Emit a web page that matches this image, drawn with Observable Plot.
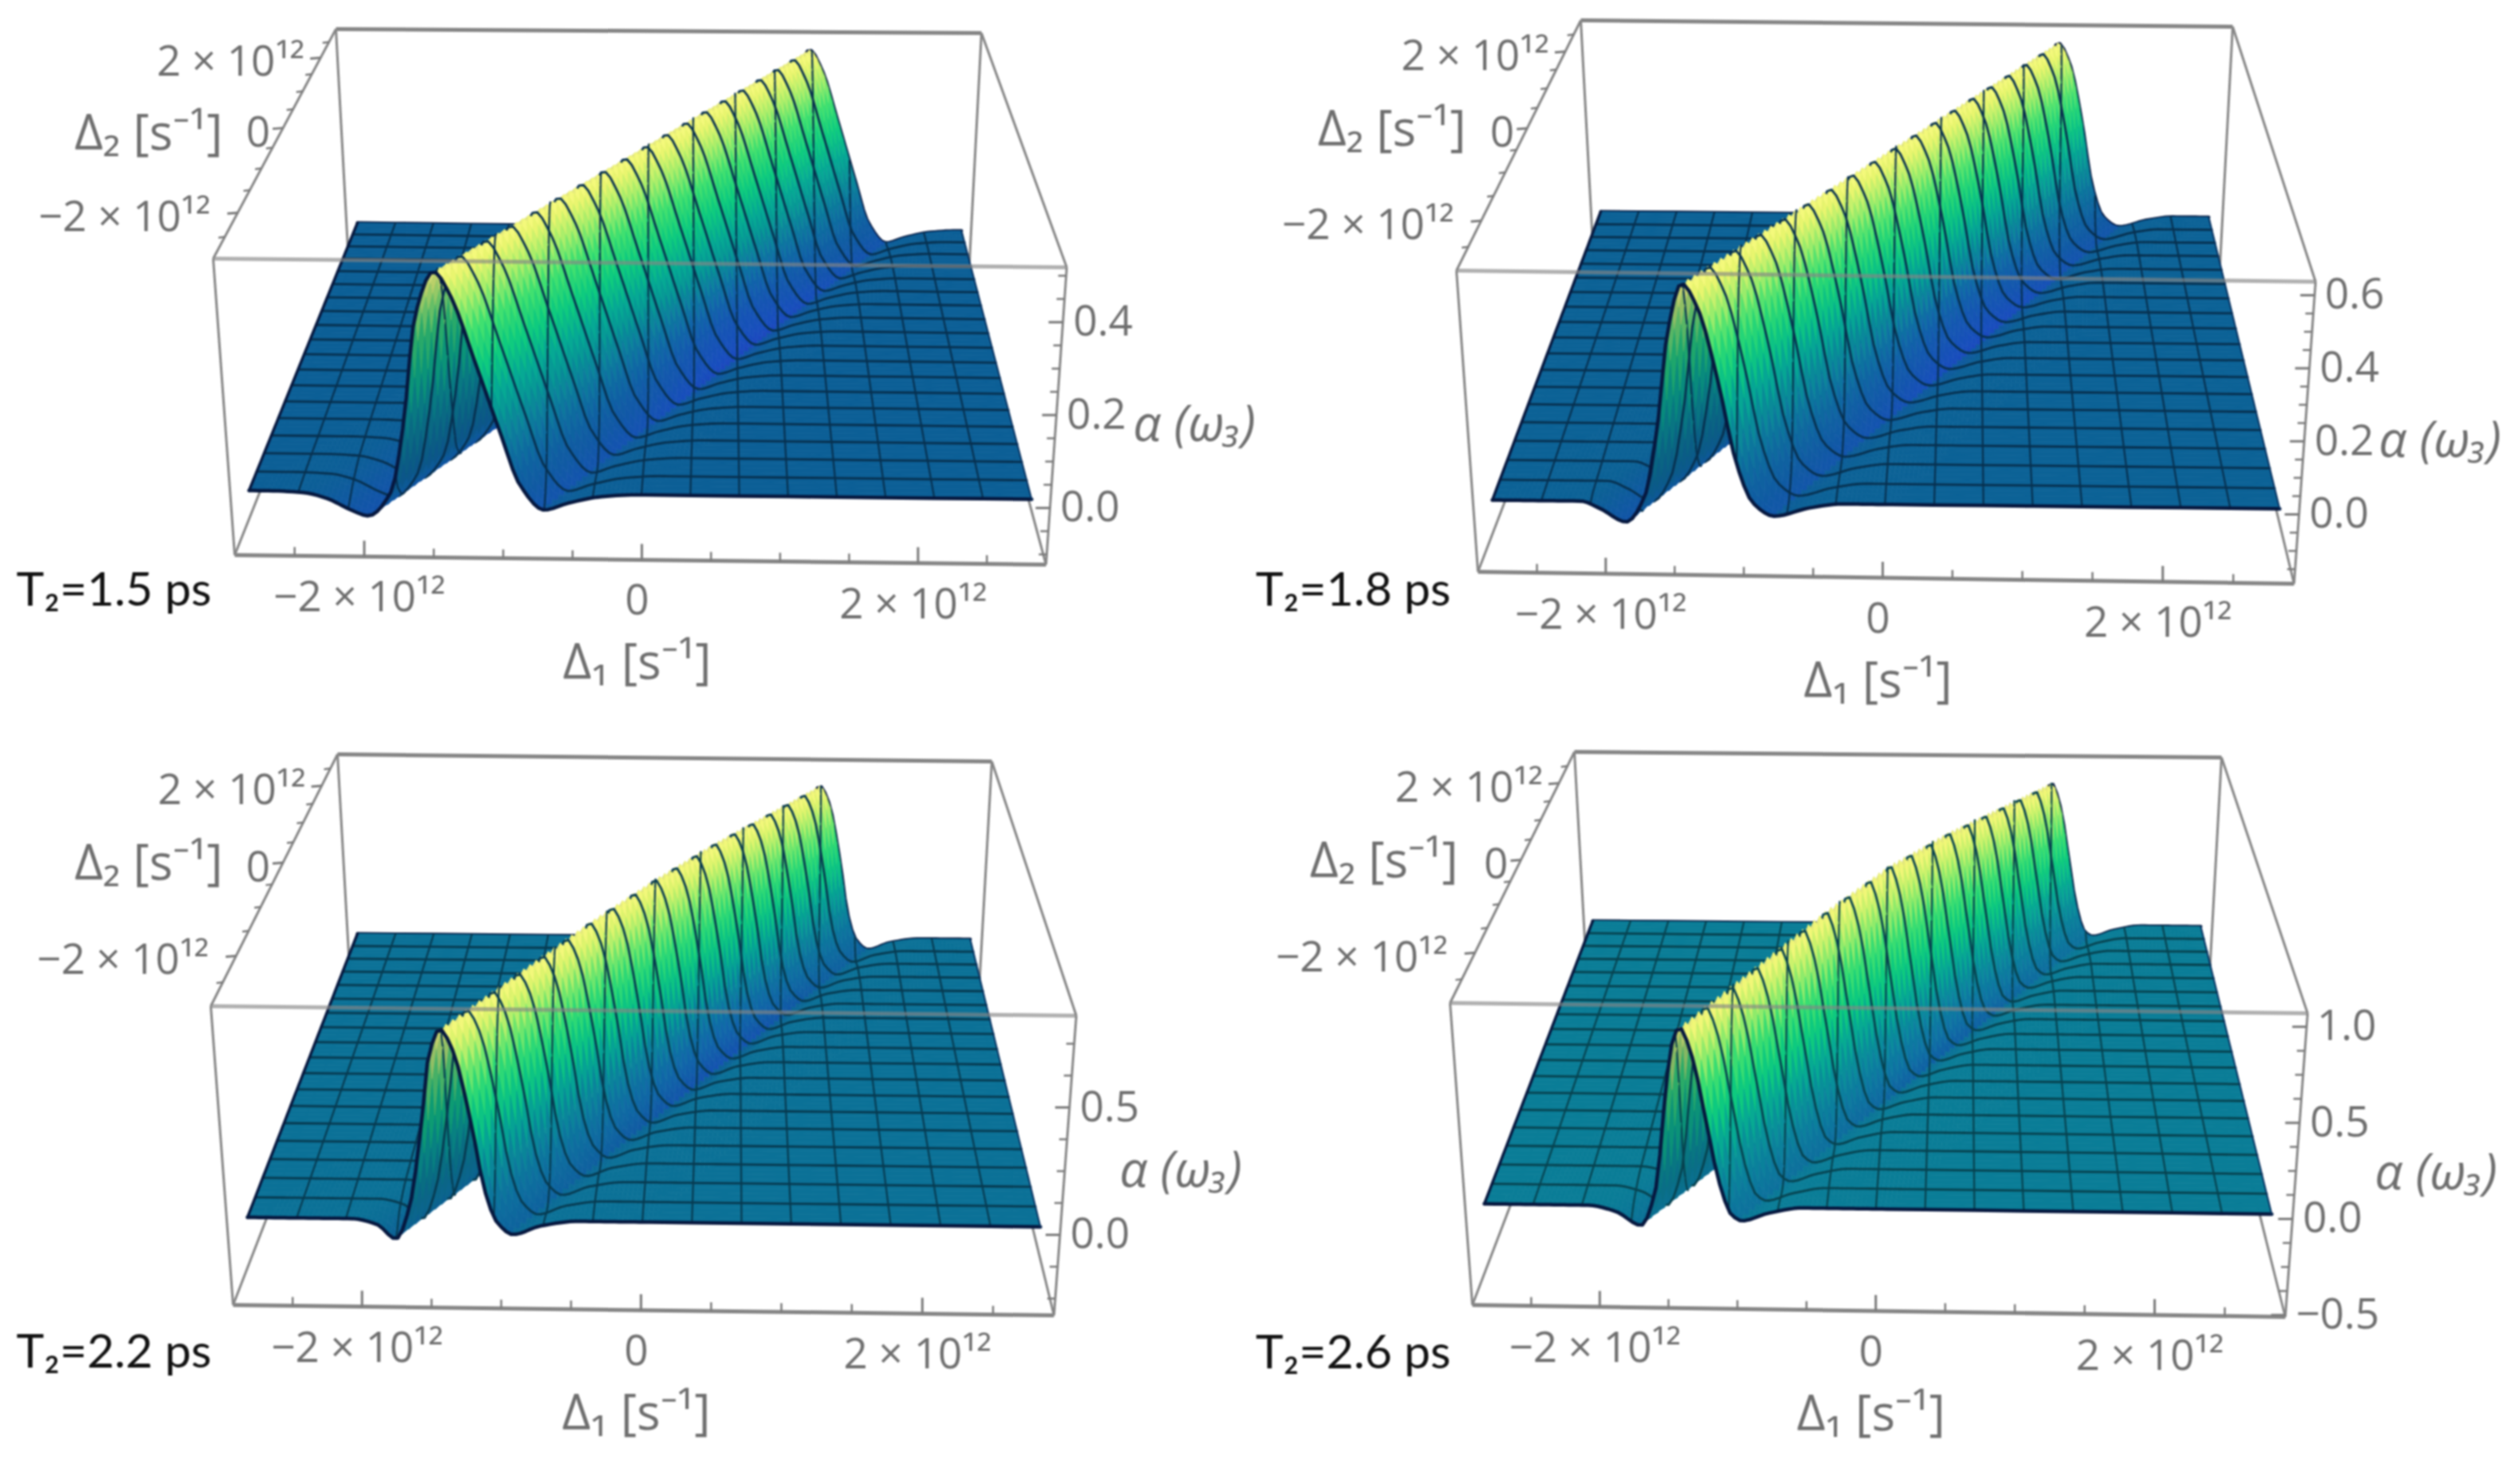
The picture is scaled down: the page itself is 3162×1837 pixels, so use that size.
<!DOCTYPE html>
<html><head><meta charset="utf-8">
<style>html,body{margin:0;padding:0;background:#fff;overflow:hidden}</style>
<script src="https://cdn.jsdelivr.net/npm/d3@7"></script>
<script src="https://cdn.jsdelivr.net/npm/@observablehq/plot@0.6"></script>
</head><body><div id="chart"></div>
<script>
// ---- values: alpha profile across the ridge (offset in 1e12 s^-1 from the crest)
const offsets15 = [-1.25,-1.0,-0.83,-0.66,-0.54,-0.37,-0.26,-0.14,0,0.114,0.26,0.43,0.55,0.72,0.89,1.13,1.4];
const alpha15   = [0,-0.003,-0.015,-0.04,-0.052,0,0.146,0.386,0.48,0.426,0.29,0.127,0.02,-0.035,-0.02,-0.005,0];
const offsets18 = [-1.0,-0.77,-0.63,-0.45,-0.31,-0.2,-0.11,0,0.11,0.23,0.35,0.46,0.61,0.86,1.1];
const alpha18   = [0,0,-0.02,-0.055,0.015,0.21,0.455,0.59,0.52,0.335,0.105,0,-0.035,-0.012,0];
const offsets22 = [-0.9,-0.66,-0.48,-0.35,-0.25,-0.14,-0.085,0,0.085,0.2,0.29,0.37,0.485,0.68,0.95];
const alpha22   = [0,0,-0.022,-0.078,0.04,0.39,0.63,0.75,0.67,0.39,0.115,-0.006,-0.055,-0.02,0];
const offsets26 = [-0.9,-0.69,-0.49,-0.31,-0.2,-0.11,-0.06,0,0.085,0.17,0.255,0.34,0.415,0.6,0.85];
const alpha26   = [0,0,-0.03,-0.1,0.08,0.57,0.82,0.92,0.77,0.45,0.13,-0.04,-0.07,-0.03,0];
// crest position (Delta1, 1e12) at the near and far end of Delta2
const crest15 = [-1.42,1.38], crest18 = [-1.40,1.37], crest22 = [-1.40,1.39], crest26 = [-1.37,1.40];
// crest height relative to the near end, read at seven stations along Delta2
const height15 = [1,1,1,1,1,1,1], height18 = [1,1,1,1,1,1,1];
const height22 = [1,1.03,1.06,1.07,1.06,1.03,1], height26 = [1,1.06,1.12,1.15,1.12,1.06,1];
// ticks and texts
const labelsT2 = ["T₂=1.5 ps","T₂=1.8 ps","T₂=2.2 ps","T₂=2.6 ps"];
const d1Ticks = [-2.5,-2,-1.5,-1,-0.5,0,0.5,1,1.5,2,2.5];
const d2Ticks = [-2.5,-2,-1.5,-1,-0.5,0,0.5,1,1.5,2,2.5];
const dMajor = [-2,0,2];
const dMajorText = ["−2 × 10¹²","0","2 × 10¹²"];
const alphaMajor15 = [0,0.2,0.4], alphaMajor18 = [0,0.2,0.4,0.6], alphaMajor22 = [0,0.5], alphaMajor26 = [-0.5,0,0.5,1];
const alphaText15 = ["0.0","0.2","0.4"], alphaText18 = ["0.0","0.2","0.4","0.6"], alphaText22 = ["0.0","0.5"], alphaText26 = ["−0.5","0.0","0.5","1.0"];

// ---- page + 3D view of each panel (projection parameters)
const W = 3162, H = 1837, R = 2.93, S = 2.8;
const views = [
 {off:offsets15,val:alpha15,crest:crest15,hgt:height15,amin:-0.122,amax:0.518,aMaj:alphaMajor15,aTxt:alphaText15,aStep:0.05,t2:labelsT2[0],
  top:[[267,324],[1338,335],[1231,41],[421,36]],bot:[[294,696],[1312,708]],
  floor:[[312,615],[1294,626],[1206,289],[448,279]],floorT:.22,dip:1,line:"#07304f",
  t2xy:[20,741],d2xy:[186,168],axy:[1498,533]},
 {off:offsets18,val:alpha18,crest:crest18,hgt:height18,amin:-0.19,amax:0.637,aMaj:alphaMajor18,aTxt:alphaText18,aStep:0.05,t2:labelsT2[1],
  top:[[1827,339],[2905,353],[2801,33],[1983,25]],bot:[[1854,717],[2878,732]],
  floor:[[1872,627],[2860,638],[2771,272],[2008,265]],floorT:.23,dip:.9,line:"#07304f",
  t2xy:[1575,741],d2xy:[1746,163],axy:[3061,553]},
 {off:offsets22,val:alpha22,crest:crest22,hgt:height22,amin:-0.316,amax:0.86,aMaj:alphaMajor22,aTxt:alphaText22,aStep:0.125,t2:labelsT2[2],
  top:[[264,1262],[1350,1274],[1244,955],[423,946]],bot:[[292,1637],[1322,1650]],
  floor:[[310,1527],[1305,1539],[1217,1178],[448,1171]],floorT:.29,dip:.6,line:"#073a50",
  t2xy:[20,1697],d2xy:[186,1084],axy:[1481,1469]},
 {off:offsets26,val:alpha26,crest:crest26,hgt:height26,amin:-0.51,amax:1.07,aMaj:alphaMajor26,aTxt:alphaText26,aStep:0.125,t2:labelsT2[3],
  top:[[1819,1258],[2895,1271],[2787,950],[1975,943]],bot:[[1847,1637],[2867,1652]],
  floor:[[1862,1510],[2850,1523],[2761,1162],[1998,1155]],floorT:.34,dip:.4,line:"#07424f",
  t2xy:[1575,1698],d2xy:[1736,1081],axy:[3056,1472]}
];

// ---- helpers
function hom(q){
  const [[x0,y0],[x1,y1],[x2,y2],[x3,y3]] = q;
  const dx1=x1-x2,dx2=x3-x2,sx=x0-x1+x2-x3,dy1=y1-y2,dy2=y3-y2,sy=y0-y1+y2-y3,det=dx1*dy2-dx2*dy1;
  const g=(sx*dy2-dx2*sy)/det,h=(dx1*sy-sx*dy1)/det;
  const a=x1-x0+g*x1,b=x3-x0+h*x3,d=y1-y0+g*y1,e=y3-y0+h*y3;
  return (u,v)=>{const w=g*u+h*v+1;return [(a*u+b*v+x0)/w,(d*u+e*v+y0)/w];};
}
function monotone(xs,ys){
  const n=xs.length,sl=[],m=new Array(n).fill(0);
  for(let i=0;i<n-1;i++) sl.push((ys[i+1]-ys[i])/(xs[i+1]-xs[i]));
  for(let i=1;i<n-1;i++) m[i]= sl[i-1]*sl[i]<=0?0:2*sl[i-1]*sl[i]/(sl[i-1]+sl[i]);
  return x=>{
    if(x<=xs[0]||x>=xs[n-1]) return 0;
    let i=d3.bisectRight(xs,x)-1; const h=xs[i+1]-xs[i],t=(x-xs[i])/h,t2=t*t,t3=t2*t;
    return (2*t3-3*t2+1)*ys[i]+(t3-2*t2+t)*h*m[i]+(-2*t3+3*t2)*ys[i+1]+(t3-t2)*h*m[i+1];
  };
}
const ramp = d3.scaleLinear()
  .domain([0,.12,.22,.35,.5,.62,.74,.86,.95,1])
  .range(["#3a12a0","#1450b0","#0c5f96","#0a8097","#06a894","#0fcc7e","#3fe070","#a8ee6a","#e8f56e","#f8fa80"])
  .interpolate(d3.interpolateRgb).clamp(true);
const shadeMix = (c,k)=>d3.interpolateRgb(c,"#0a2a50")(k);

const features=[], boxLinks=[], overLinks=[], ticks=[], tickText=[], d2Text=[], alphaText=[], axisText=[], alphaAxis=[], t2Text=[];
const feat=(type,coords,p)=>({type:"Feature",geometry:{type,coordinates:coords},properties:p});

views.forEach(V=>{
  const {top,bot,floor,amin,amax}=V;
  const w0=(0-amin)/(amax-amin);
  const lean=(bot[0][0]-top[0][0])/(bot[0][1]-top[0][1])*.75, leanR=(bot[1][0]-top[1][0])/(bot[1][1]-top[1][1])*.75;
  const yBL=top[3][1]+(floor[3][1]-top[3][1])/(1-w0), yBR=top[2][1]+(floor[2][1]-top[2][1])/(1-w0);
  const backL=[top[3][0]+lean*(yBL-top[3][1]),yBL], backR=[top[2][0]+leanR*(yBR-top[2][1]),yBR];
  const Top=hom(top), Bot=hom([bot[0],bot[1],backR,backL]), Fl=hom(floor);
  const boxP=(d1,d2,a)=>{
    const u=(d1+R)/(2*R),v=(d2+R)/(2*R),w=(a-amin)/(amax-amin),t=Top(u,v),b=Bot(u,v);
    return [b[0]+(t[0]-b[0])*w,b[1]+(t[1]-b[1])*w];
  };
  const surfP=(d1,d2,a)=>{
    const f=Fl((d1+S)/(2*S),(d2+S)/(2*S)),t=boxP(d1,d2,amax),k=a/amax;
    return [f[0]+(t[0]-f[0])*k,f[1]+(t[1]-f[1])*k];
  };
  const prof=monotone(V.off,V.val);
  const peak=d3.max(V.val), dipMin=d3.min(V.val);
  const lastDip=V.off[d3.range(V.val.length).filter(i=>V.off[i]>0).reduce((a,b)=>V.val[b]<V.val[a]?b:a)];
  const crestAt=d2=>V.crest[0]+(V.crest[1]-V.crest[0])*(d2+S)/(2*S);
  const gain=d2=>{const s=(d2+S)/(2*S)*6,i=Math.min(5,Math.floor(s));return V.hgt[i]+(V.hgt[i+1]-V.hgt[i])*(s-i);};
  const A=(d1,d2)=>{const a=prof(d1-crestAt(d2));return a>0?a*gain(d2):a;};
  const colorAt=(d1,d2)=>{
    const del=d1-crestAt(d2),a=prof(del),v=(d2+S)/(2*S);
    const k=.35+.65*Math.exp(-Math.pow((v-.55)/.25,2));
    let t;
    if(a>=0) t=V.floorT+(1-V.floorT)*Math.pow(a/peak,1.2);
    else {
      let q=a/dipMin; if(del>lastDip) q=q*q*q;
      t=V.floorT*(1-V.dip*k*q);
    }
    let c=ramp(t);
    // the low part of the lit slope turns saturated blue towards the foot line
    if(del>0&&del<=lastDip&&a/peak<.35){
      c=d3.interpolateRgb(c,"#1a4cc4")((1-Math.max(a,0)/peak/.35)*.75*k*V.dip);
    }
    const slope=(prof(del+.01)-prof(del-.01))/.02;
    if(del<0&&slope>0){const f=Math.min(1,slope/(peak/.3))*.2+(a>0?.08:0); c=shadeMix(c,f);}
    return c;
  };
  // box
  const L=(a,b,w)=>({x1:a[0],y1:a[1],x2:b[0],y2:b[1],w});
  const fb0=bot[0],fb1=bot[1];
  boxLinks.push(L(top[3],top[2],5),L(top[3],top[0],3),L(top[2],top[1],3),L(top[3],backL,3),L(top[2],backR,3),
    L(fb0,backL,3),L(fb1,backR,3),L(backL,backR,3),L(fb0,fb1,5),L(top[0],fb0,3),L(top[1],fb1,3));
  overLinks.push(L(top[0],top[1],5));
  // ticks
  d1Ticks.forEach(t=>{const a=boxP(t,-R,amin),maj=dMajor.includes(t),e=[a[0],a[1]-(maj?20:11)];ticks.push(L(a,e,maj?3:2.5));});
  d2Ticks.forEach(t=>{const a=boxP(-R,t,amax),maj=dMajor.includes(t),e=[a[0]+(maj?-13:-8),a[1]+1];ticks.push(L(a,e,maj?3:2.5));});
  for(let a0=Math.ceil(amin/V.aStep)*V.aStep;a0<=amax+1e-6;a0+=V.aStep){
    const a=boxP(R,-R,a0),maj=V.aMaj.some(m=>Math.abs(m-a0)<1e-6),e=[a[0]-(maj?18:10),a[1]];ticks.push(L(a,e,maj?3:2.5));
  }
  // tick labels
  dMajor.forEach((t,i)=>{const a=boxP(t,-R,amin);tickText.push({x:a[0]-6,y:a[1]+52,text:dMajorText[i]});});
  const d2Dx=[-34,-16,-20];
  dMajor.forEach((t,i)=>{const a=boxP(-R,t,amax);d2Text.push({x:a[0]+d2Dx[i],y:a[1]+6,text:dMajorText[i]});});
  V.aMaj.forEach((t,i)=>{const a=boxP(R,-R,t);alphaText.push({x:a[0]+13,y:a[1],text:V.aTxt[i]});});
  const a0=boxP(0,-R,amin);
  axisText.push({x:a0[0]-6,y:a0[1]+130,text:"Δ₁ [s⁻¹]"},{x:V.d2xy[0],y:V.d2xy[1],text:"Δ₂ [s⁻¹]"});
  alphaAxis.push({x:V.axy[0],y:V.axy[1],text:"α (ω₃)"});
  t2Text.push({x:V.t2xy[0],y:V.t2xy[1],text:V.t2});

  // ---- surface, drawn from the far edge to the near edge
  const rows=18, cols=16, sub=4;
  const fineList=d2=>{
    const r=crestAt(d2),list=[];
    const lo=Math.max(-S,r-1.35),hi=Math.min(S,r+1.45);
    for(let d=-S;d<lo-1e-9;d+=5.6/cols) list.push(d);
    for(let d=lo;d<hi;d+=.035) list.push(d);
    let rest=[];for(let d=S;d>hi+1e-9;d-=5.6/cols) rest.push(d);
    list.push(hi,...rest.reverse());
    return list;
  };
  const edgeLine=d2=>fineList(d2).map(d=>surfP(d,d2,A(d,d2)));
  features.push(feat("LineString",edgeLine(S),{fill:"none",stroke:"#06183f",sw:4}));
  const nj=rows*sub, dj=5.6/nj, colVals=d3.range(1,cols).map(i=>-S+i*5.6/cols);
  let pendingRow=null;
  for(let j=nj-1;j>=0;j--){
    const d2a=-S+j*dj,d2b=d2a+dj,list=fineList((d2a+d2b)/2),row=[];
    for(let i=0;i<list.length-1;i++){
      const x0=list[i],x1=list[i+1];
      const ring=[surfP(x0,d2a,A(x0,d2a)),surfP(x1,d2a,A(x1,d2a)),surfP(x1,d2b,A(x1,d2b)),surfP(x0,d2b,A(x0,d2b))];
      ring.push(ring[0]);
      const xm=(x0+x1)/2,c=colorAt(xm,(d2a+d2b)/2);
      row.push({d:Math.abs(xm),f:feat("Polygon",[ring],{fill:c,stroke:c,sw:.7})});
    }
    row.sort((p,q)=>q.d-p.d).forEach(r=>features.push(r.f));
    colVals.forEach(cv=>{
      features.push(feat("LineString",[surfP(cv,d2a,A(cv,d2a)),surfP(cv,(d2a+d2b)/2,A(cv,(d2a+d2b)/2)),surfP(cv,d2b,A(cv,d2b))],{fill:"none",stroke:V.line,sw:2.2}));
    });
    if(pendingRow!==null){features.push(feat("LineString",edgeLine(pendingRow),{fill:"none",stroke:V.line,sw:2.8}));pendingRow=null;}
    if(j%sub===0&&j>0) pendingRow=d2a;
  }
  // boundary of the surface
  features.push(feat("LineString",edgeLine(-S),{fill:"none",stroke:"#06183f",sw:4.5}));
  const side=d=>d3.range(0,nj+1).map(j=>{const y=-S+j*dj;return surfP(d,y,A(d,y));});
  features.push(feat("LineString",side(-S),{fill:"none",stroke:"#06183f",sw:3.5}));
  features.push(feat("LineString",side(S),{fill:"none",stroke:"#06305f",sw:2}));
});

const gray="#6e6e6e", tickFont="'Open Sans'";
const chart=Plot.plot({
  width:W,height:H,margin:0,
  x:{domain:[0,W],range:[0,W],axis:null},
  y:{domain:[0,H],range:[0,H],axis:null},
  color:{type:"identity"},
  style:{background:"#fff",filter:"blur(1.2px)"},
  marks:[
    Plot.link(boxLinks,{x1:"x1",y1:"y1",x2:"x2",y2:"y2",stroke:"#858585",strokeWidth:"w"}),
    Plot.link(ticks,{x1:"x1",y1:"y1",x2:"x2",y2:"y2",stroke:"#7a7a7a",strokeWidth:"w"}),
    Plot.geo(features,{fill:d=>d.properties.fill,stroke:d=>d.properties.stroke,strokeWidth:d=>d.properties.sw,strokeLinejoin:"round"}),
    Plot.link(overLinks,{x1:"x1",y1:"y1",x2:"x2",y2:"y2",stroke:"#858585",strokeOpacity:.65,strokeWidth:"w"}),
    Plot.text(tickText,{x:"x",y:"y",text:"text",fontSize:53,fontFamily:tickFont,fill:gray}),
    Plot.text(d2Text,{x:"x",y:"y",text:"text",fontSize:53,fontFamily:tickFont,fill:gray,textAnchor:"end"}),
    Plot.text(alphaText,{x:"x",y:"y",text:"text",fontSize:53,fontFamily:tickFont,fill:gray,textAnchor:"start"}),
    Plot.text(axisText,{x:"x",y:"y",text:"text",fontSize:62,fontFamily:tickFont,fill:gray}),
    Plot.text(alphaAxis,{x:"x",y:"y",text:"text",fontSize:62,fontFamily:tickFont,fontStyle:"italic",fill:gray}),
    Plot.text(t2Text,{x:"x",y:"y",text:"text",fontSize:59,fontFamily:"Lato",fill:"#111",textAnchor:"start"})
  ]
});
document.getElementById("chart").appendChild(chart);
</script></body></html>
